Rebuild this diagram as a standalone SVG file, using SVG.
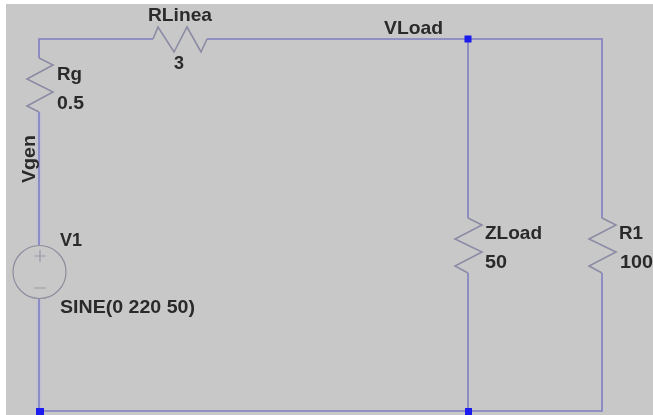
<svg xmlns="http://www.w3.org/2000/svg" width="653" height="415" viewBox="0 0 653 415">
<defs>
<filter id="soft" x="-5%" y="-5%" width="110%" height="110%"><feGaussianBlur stdDeviation="0.5"/></filter>
</defs>
<style>
.t{font-family:"Liberation Sans",Arial,sans-serif;font-weight:bold;font-size:18.5px;fill:#2a2a2a}
.w{fill:none;stroke:#7f7fc4;stroke-width:1.6}
.h{fill:none;stroke:#bcbcd6;stroke-width:5}
.r{fill:none;stroke:#8b8ba6;stroke-width:1.6;stroke-linejoin:miter}
.j{fill:#1a1aee}
</style>
<rect x="0" y="0" width="653" height="415" fill="#ffffff"/>
<rect x="6" y="4" width="647" height="411" fill="#c8c8c8"/>
<g filter="url(#soft)">
<g id="connectors">
<path class="h" d="M39 113V243M39 300V411" opacity="0.6"/>
<path class="w" d="M39 58V39H153M207 39H602V218M602 273V411H39M39 112V245M39 299V411M468 39V218M468 273V411"/>
</g>
<g id="Rg">
<path class="r" d="M39 58L53 65L27 79L53 92L27 106L39 112"/>
<text class="t" x="57" y="79.5" textLength="25" lengthAdjust="spacingAndGlyphs">Rg</text>
<text class="t" x="57" y="109" textLength="27" lengthAdjust="spacingAndGlyphs">0.5</text>
</g>
<g id="RLinea">
<path class="r" d="M153 39L158 27L174 52L187 27L201 52L207 39"/>
<text class="t" x="148" y="21" textLength="64" lengthAdjust="spacingAndGlyphs">RLinea</text>
<text class="t" x="174" y="69" textLength="10" lengthAdjust="spacingAndGlyphs">3</text>
</g>
<g id="V1">
<circle cx="39.5" cy="272" r="26.5" fill="none" stroke="#8d8d9e" stroke-width="1.2"/>
<path d="M34 256H46M40 250V262M34 288H46" fill="none" stroke="#9a9aa8" stroke-width="1.2"/>
<text class="t" x="60" y="246" textLength="22" lengthAdjust="spacingAndGlyphs">V1</text>
<text class="t" x="60" y="313" textLength="135" lengthAdjust="spacingAndGlyphs">SINE(0 220 50)</text>
</g>
<g id="Vgen">
<text class="t" transform="translate(34.5 183) rotate(-90)" textLength="48" lengthAdjust="spacingAndGlyphs">Vgen</text>
</g>
<g id="VLoad">
<rect class="j" x="464.5" y="35.5" width="7" height="7"/>
<text class="t" x="384" y="34" textLength="59" lengthAdjust="spacingAndGlyphs">VLoad</text>
</g>
<g id="ZLoad">
<path class="r" d="M468 218L482 225L455 239L482 252L455 266L468 273"/>
<text class="t" x="485" y="239" textLength="57" lengthAdjust="spacingAndGlyphs">ZLoad</text>
<text class="t" x="485" y="268" textLength="22" lengthAdjust="spacingAndGlyphs">50</text>
</g>
<g id="R1">
<path class="r" d="M602 218L616 225L589 239L616 252L589 266L602 273"/>
<text class="t" x="619" y="239" textLength="24" lengthAdjust="spacingAndGlyphs">R1</text>
<text class="t" x="620" y="268" textLength="33" lengthAdjust="spacingAndGlyphs">100</text>
</g>
<g id="junctions">
<rect class="j" x="36" y="408" width="8" height="7"/>
<rect class="j" x="465" y="408" width="7" height="7"/>
</g>
</g>
</svg>
